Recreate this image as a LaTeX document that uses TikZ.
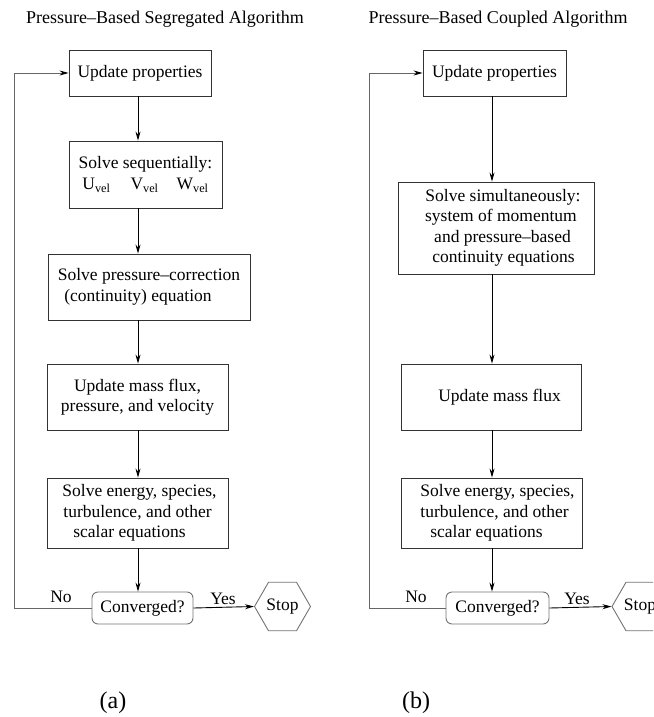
\documentclass[tikz,border=0pt]{standalone}
\usepackage{fontspec}
\setmainfont{Liberation Serif}
\usetikzlibrary{arrows.meta,shapes.geometric}
\begin{document}
\begin{tikzpicture}[x=1pt,y=-1pt,
  txt/.style={font=\fontsize{17.5}{20.5}\selectfont, inner sep=0pt},
  box/.style={txt, draw=black!80, line width=0.9pt, align=center},
  conv/.style={txt, draw=black!55, line width=0.9pt, rounded corners=6pt, minimum width=101pt, minimum height=32pt},
  stopbox/.style={txt, draw=black!55, line width=0.9pt, regular polygon, regular polygon sides=6, minimum size=56pt},
  arr/.style={line width=0.9pt, -{Stealth[length=9pt,width=5pt]}},
  loopline/.style={line width=0.9pt, draw=black!60, -{Stealth[length=9pt,width=5pt,color=black]}},
  ttl/.style={font=\fontsize{18}{21}\selectfont, inner sep=0pt},
  subcap/.style={font=\fontsize{24}{28}\selectfont, inner sep=0pt}]
\useasboundingbox (0,0) rectangle (653,717);
\clip (0,0) rectangle (653,717);
% titles
\node[ttl] (ta) at (165,19) {Pressure--Based Segregated Algorithm};
\node[ttl] (tb) at (498,19) {Pressure--Based Coupled Algorithm};
% ---------- (a)
\coordinate (ca) at (138,0);
\node[box, minimum width=142pt, minimum height=46pt] (upa) at (140,73) {Update properties};
\node[box, minimum width=153pt, minimum height=67pt] (seqa) at (145.5,174.5)
  {Solve sequentially:\\[1pt] U\textsubscript{vel}\hspace{20pt}V\textsubscript{vel}\hspace{18pt}W\textsubscript{vel}};
\node[box, minimum width=202pt, minimum height=66pt] (pca) at (149,287)
  {Solve pressure--correction\\\hspace*{-22pt}(continuity) equation};
\node[box, minimum width=181pt, minimum height=66pt] (mfa) at (137.5,397)
  {Update mass flux,\\pressure, and velocity};
\node[box, minimum width=181pt, minimum height=70pt] (ena) at (137.5,513)
  {\hspace*{4pt}Solve energy, species,\\turbulence, and other\\\hspace*{-16pt}scalar equations};
\node[conv] (cva) at (142.5,608) {Converged?};
\node[stopbox] (stopa) at (282.5,606.5) {Stop};
\coordinate (fa) at (14,73);
\draw[arr] (upa.south -| ca) -- (seqa.north -| ca);
\draw[arr] (seqa.south -| ca) -- (pca.north -| ca);
\draw[arr] (pca.south -| ca) -- (mfa.north -| ca);
\draw[arr] (mfa.south -| ca) -- (ena.north -| ca);
\draw[arr] (ena.south -| ca) -- (cva.north -| ca);
\draw[arr] (cva.east) -- (stopa.west);
\draw[loopline] (cva.west) -| (fa) -- (upa.west);
\node[txt] (noa) at (61,597) {No};
\node[txt] (yesa) at (223,599) {Yes};
\node[subcap] (capa) at (113,703) {(a)};
% ---------- (b)
\coordinate (cb) at (492,0);
\node[box, minimum width=143pt, minimum height=46pt] (upb) at (494.5,73) {Update properties};
\node[box, minimum width=196pt, minimum height=92pt] (simb) at (496,228)
  {\hspace*{14pt}Solve simultaneously:\\\hspace*{10pt}system of momentum\\\hspace*{13pt}and pressure--based\\\hspace*{15pt}continuity equations};
\node[box, minimum width=180pt, minimum height=66pt] (mfb) at (491,397)
  {\hspace*{17pt}Update mass flux};
\node[box, minimum width=181pt, minimum height=70pt] (enb) at (491.5,513)
  {\hspace*{12pt}Solve energy, species,\\\hspace*{6pt}turbulence, and other\\\hspace*{-10pt}scalar equations};
\node[conv, minimum width=103pt] (cvb) at (497.5,608) {Converged?};
\node[stopbox] (stopb) at (640,606.5) {Stop};
\coordinate (fb) at (369,73);
\draw[arr] (upb.south -| cb) -- (simb.north -| cb);
\draw[arr] (simb.south -| cb) -- (mfb.north -| cb);
\draw[arr] (mfb.south -| cb) -- (enb.north -| cb);
\draw[arr] (enb.south -| cb) -- (cvb.north -| cb);
\draw[arr] (cvb.east) -- (stopb.west);
\draw[loopline] (cvb.west) -| (fb) -- (upb.west);
\node[txt] (nob) at (416,597) {No};
\node[txt] (yesb) at (577,599) {Yes};
\node[subcap] (capb) at (416,703) {(b)};
\end{tikzpicture}
\end{document}
